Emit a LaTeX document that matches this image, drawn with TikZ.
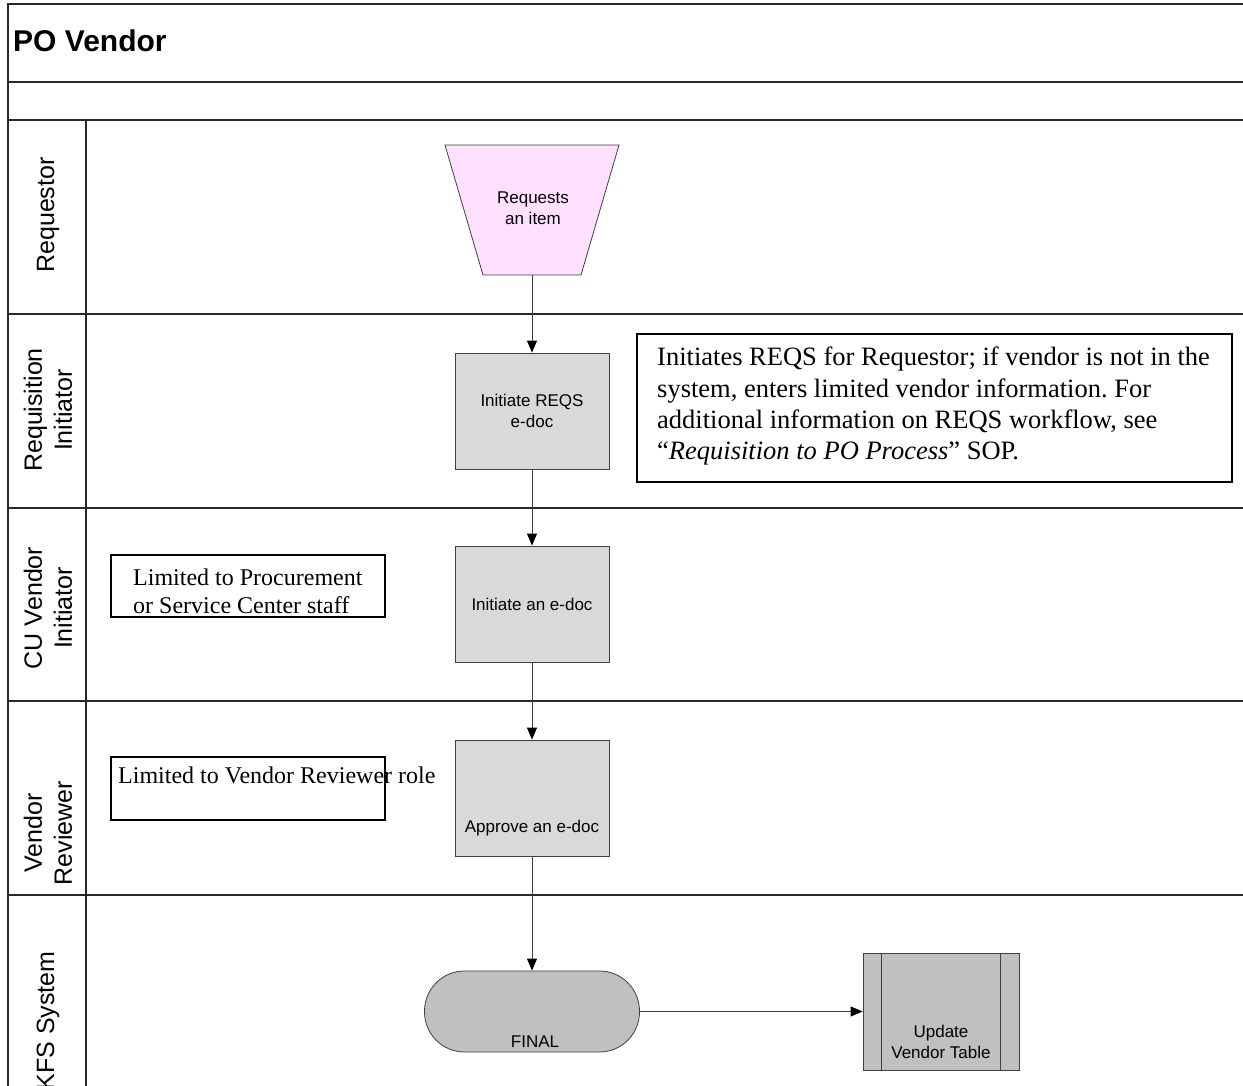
\documentclass[tikz,border=0pt]{standalone}
\usepackage{fontspec}
\setmainfont{Liberation Serif}
\setsansfont{Liberation Sans}
\usetikzlibrary{arrows.meta}
\definecolor{pinkfill}{RGB}{255,224,255}
\definecolor{boxgray}{RGB}{217,217,217}
\definecolor{fingray}{RGB}{192,192,192}
\definecolor{linec}{RGB}{40,40,40}
\definecolor{boxline}{RGB}{64,64,64}
\frenchspacing
\tikzset{
  lane/.style={draw=linec, line width=1.2pt},
  proc/.style={draw=boxline, line width=0.8pt, fill=boxgray, minimum width=154pt, minimum height=116pt, inner sep=0pt, align=center, font=\sffamily\fontsize{17}{21}\selectfont},
  shapetext/.style={font=\sffamily\fontsize{17}{21}\selectfont, align=center, inner sep=0pt},
  notebox/.style={draw=black, line width=1.2pt, inner sep=0pt},
  bignote/.style={font=\fontsize{26.5}{31.3}\selectfont, align=left, inner sep=0pt, anchor=north west},
  smallnote/.style={font=\fontsize{24}{28}\selectfont, align=left, inner sep=0pt, anchor=north west},
  flow/.style={draw=boxline, line width=0.9pt, -{Triangle[length=12pt,width=10pt,color=black]}},
  lanelabel/.style={rotate=90, font=\sffamily\fontsize{25}{30}\selectfont, align=center, inner sep=0pt}
}
\begin{document}
\begin{tikzpicture}[x=1pt,y=-1pt]
\useasboundingbox (0,0) rectangle (1243,1086);
% frame and lanes
\draw[lane] (8,1090) -- (8,4) -- (1243,4);
\foreach \yy in {82,120,314,508,701,895} \draw[lane] (8,\yy) -- (1243,\yy);
\draw[lane] (86,120) -- (86,1090);
% title
\node[anchor=base west, font=\sffamily\bfseries\fontsize{30}{36}\selectfont, inner sep=0pt] (title) at (13,52) {PO Vendor};
% lane labels
\node[lanelabel] (l1) at (48,215) {Requestor};
\node[lanelabel] (l2) at (48,410) {Requisition\\Initiator};
\node[lanelabel] (l3) at (48,608) {CU Vendor\\Initiator};
\node[lanelabel] (l4) at (48,833) {Vendor\\Reviewer};
\node[lanelabel] (l5) at (48,1021) {KFS System};
% requestor trapezoid
\path[draw=boxline, line width=0.8pt, fill=pinkfill] (445,145) -- (619,145) -- (581,275) -- (483,275) -- cycle;
\node[shapetext] (req) at (533,208) {Requests\\an item};
\coordinate (reqbot) at (532,275);
% process boxes
\node[proc] (b1) at (532,411) {Initiate REQS\\e-doc};
\node[proc] (b2) at (532,604) {Initiate an e-doc};
\node[proc] (b3) at (532,798) {};
\node[shapetext] (b3t) at (532,828) {Approve an e-doc};
% final
\node[draw=boxline, line width=0.8pt, fill=fingray, rounded corners=40pt, minimum width=215pt, minimum height=81pt, inner sep=0pt] (fin) at (532,1011.5) {};
\node[shapetext] (fint) at (535,1042) {FINAL};
% update vendor table
\node[proc, fill=fingray, minimum width=156pt, minimum height=117pt] (upd) at (941,1011.5) {};
\draw[boxline, line width=0.8pt] ([xshift=19pt]upd.north west) -- ([xshift=19pt]upd.south west);
\draw[boxline, line width=0.8pt] ([xshift=-19pt]upd.north east) -- ([xshift=-19pt]upd.south east);
\node[shapetext] (updt) at (941,1042) {Update\\Vendor Table};
% connectors
\draw[flow] (reqbot) -- (b1.north);
\draw[flow] (b1.south) -- (b2.north);
\draw[flow] (b2.south) -- (b3.north);
\draw[flow] (b3.south) -- (fin.north);
\draw[flow] (fin.east) -- (upd.west);
% notes
\node[notebox, minimum width=595pt, minimum height=148pt] (n1) at (934.5,408) {};
\node[bignote] (n1t) at (657,347) {Initiates REQS for Requestor; if vendor is not in the\\system, enters limited vendor information. For\\additional information on REQS workflow, see\\“\textit{Requisition to PO Process}” SOP.};
\node[notebox, minimum width=274pt, minimum height=62pt] (n2) at (248,586) {};
\node[smallnote] (n2t) at (133,569) {Limited to Procurement\\or Service Center staff};
\node[notebox, minimum width=274pt, minimum height=63pt] (n3) at (248,788.5) {};
\node[smallnote] (n3t) at (118,767) {Limited to Vendor Reviewer role};
\end{tikzpicture}
\end{document}
